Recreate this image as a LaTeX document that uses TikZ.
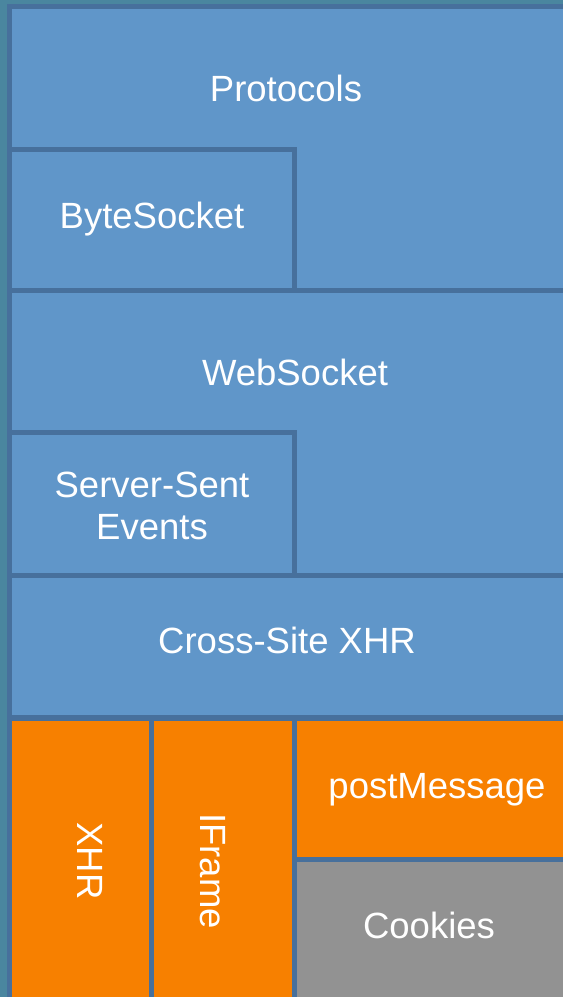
\documentclass[tikz,border=0pt]{standalone}
\usepackage{fontspec}
\setmainfont{Liberation Sans}
\usepackage{xcolor}
\usepackage{tikz}
\usetikzlibrary{positioning}

\definecolor{panelblue}{HTML}{6096C9}
\definecolor{edgeblue}{HTML}{47709C}
\definecolor{stripteal}{HTML}{4A869F}
\definecolor{apiorange}{HTML}{F78000}
\definecolor{cookiegray}{HTML}{929292}

\begin{document}
\begin{tikzpicture}[x=1pt, y=-1pt,
        panel/.style={rectangle, inner sep=0pt, outer sep=0pt, anchor=north west, fill=panelblue},
        inset/.style={panel, draw=edgeblue, line width=5pt},
        label/.style={text=white, font=\fontsize{36.5}{42}\selectfont, inner sep=0pt},
        every node/.style={inner sep=0pt}]
        \useasboundingbox (0,0) rectangle (563,997);
        % Background
        \fill[edgeblue] (0,0) rectangle (563,997);
        \fill[stripteal] (0,0) rectangle (7,997);
        \fill[stripteal] (0,0) rectangle (563,4);
        % Protocols
        \node[panel, minimum width=551pt, minimum height=279pt] (proto) at (12,9) {};
        \node[label, anchor=base] (protolbl) at (286,101) {Protocols};
        % ByteSocket
        \node[inset, minimum width=285pt, minimum height=141pt] (byte) at (9.5,149.5) {};
        \node[label, anchor=base] (bytelbl) at (152,228) {ByteSocket};
        % WebSocket
        \node[panel, minimum width=551pt, minimum height=280pt] (websock) at (12,293) {};
        \node[label, anchor=base] (websocklbl) at (295,385) {WebSocket};
        % Server-Sent Events
        \node[inset, minimum width=285pt, minimum height=143pt] (sse) at (9.5,432.5) {};
        \node[label, align=center] (sselbl) at (152,506) {Server-Sent\\Events};
        % Cross-Site XHR
        \node[panel, minimum width=551pt, minimum height=137pt] (xsite) at (12,578) {};
        \node[label, anchor=base] (xsitelbl) at (287,653) {Cross-Site XHR};
        % XHR
        \node[panel, fill=apiorange, minimum width=137pt, minimum height=276pt] (xhr) at (12,721) {};
        \node[label, rotate=-90] (xhrlbl) at (90,861) {XHR};
        % IFrame
        \node[panel, fill=apiorange, minimum width=138pt, minimum height=276pt] (iframe) at (154,721) {};
        \node[label, rotate=-90] (iframelbl) at (213,871) {IFrame};
        % postMessage
        \node[panel, fill=apiorange, minimum width=266pt, minimum height=136pt] (postmsg) at (297,721) {};
        \node[label, anchor=base] (postmsglbl) at (437,798) {postMessage};
        % Cookies
        \node[panel, fill=cookiegray, minimum width=266pt, minimum height=135pt] (cookies) at (297,862) {};
        \node[label, anchor=base] (cookieslbl) at (429,938) {Cookies};
    \end{tikzpicture}
\end{document}
